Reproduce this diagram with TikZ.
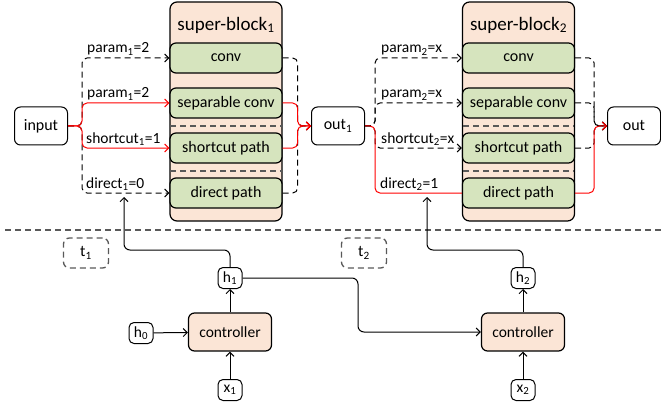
\documentclass[tikz,border=0pt]{standalone}
\usepackage{fontspec}
\setmainfont{Carlito}
\usetikzlibrary{calc,arrows.meta}
\definecolor{peach}{HTML}{FBE5D6}
\definecolor{olive}{HTML}{D6E4BE}
\definecolor{sepgray}{HTML}{595959}
\definecolor{selred}{HTML}{FF0000}
\tikzset{
  >={Straight Barb[length=4pt,width=8pt]},
  outer/.style={draw,line width=1.2pt,rounded corners=7pt,fill=peach,minimum width=112pt,minimum height=219pt},
  blk/.style={draw,line width=1.2pt,rounded corners=6pt,fill=olive,minimum width=112pt,minimum height=30pt,font=\fontsize{16}{16}\selectfont},
  io/.style={draw,line width=1pt,rounded corners=6pt,minimum width=53pt,minimum height=38pt,font=\fontsize{16}{16}\selectfont},
  ctl/.style={draw,line width=1.2pt,rounded corners=6pt,fill=peach,minimum width=83pt,minimum height=38pt,font=\fontsize{15.5}{15.5}\selectfont},
  small/.style={draw,line width=1pt,rounded corners=5pt,minimum width=24pt,minimum height=21pt,inner sep=1pt,font=\fontsize{15.5}{15.5}\selectfont},
  tbox/.style={draw,line width=1.3pt,sepgray,text=black,dash pattern=on 6pt off 4pt,rounded corners=6pt,minimum width=45pt,minimum height=30pt,font=\fontsize{16}{16}\selectfont},
  lbl/.style={anchor=base west,inner sep=0pt,font=\fontsize{15.5}{15.5}\selectfont},
  ttl/.style={font=\fontsize{19}{19}\selectfont},
  sep/.style={sepgray,line width=1.2pt,dash pattern=on 6pt off 4pt},
  off/.style={->,line width=1pt,dash pattern=on 6pt off 4pt,rounded corners=5pt},
  on/.style={->,line width=1pt,selred,rounded corners=5pt},
  arr/.style={->,line width=1pt,rounded corners=6pt}
}
\begin{document}
\begin{tikzpicture}[x=1pt,y=-1pt]
\useasboundingbox (0,0) rectangle (661,409);

% super-block 1
\node[outer] (sb1) at (226,111.5) {};
\node[ttl] (sb1t) at (226,25) {super-block\textsubscript{1}};
\node[blk] (conv1) at (226,58) {conv};
\node[blk] (sep1) at (226,103) {separable conv};
\node[blk] (sc1) at (226,148) {shortcut path};
\node[blk] (dp1) at (226,193) {direct path};
\draw[sep] (170,126) -- (282,126);
\draw[sep] (170,171) -- (282,171);

% super-block 2
\node[outer] (sb2) at (518.5,111.5) {};
\node[ttl] (sb2t) at (518.5,25) {super-block\textsubscript{2}};
\node[blk] (conv2) at (518.5,58) {conv};
\node[blk] (sep2) at (518.5,103) {separable conv};
\node[blk] (sc2) at (518.5,148) {shortcut path};
\node[blk] (dp2) at (518.5,193) {direct path};
\draw[sep] (463,126) -- (574,126);
\draw[sep] (463,171) -- (574,171);

\node[io] (input) at (41,126) {input};
\node[io] (out1) at (338,126) {out\textsubscript{1}};
\node[io] (out) at (634,126) {out};

% block 1 in / out
\draw[off] (input.east) -- ++(14,0) |- (conv1.west);
\draw[off] (input.east) -- ++(14,0) |- (dp1.west);
\draw[on] (input.east) -- ++(14,0) |- (sep1.west);
\draw[on] (input.east) -- ++(14,0) |- (sc1.west);
\draw[off] (conv1.east) -- ++(15,0) |- (out1.west);
\draw[off] (dp1.east) -- ++(15,0) |- (out1.west);
\draw[on] (sep1.east) -- ++(15,0) |- (out1.west);
\draw[on] (sc1.east) -- ++(15,0) |- (out1.west);

\node[lbl] (p11) at (87,53) {param\textsubscript{1}=2};
\node[lbl] (p12) at (87,98) {param\textsubscript{1}=2};
\node[lbl] (s1) at (86,143.5) {shortcut\textsubscript{1}=1};
\node[lbl] (d1) at (86,188) {direct\textsubscript{1}=0};

% block 2 in / out
\draw[off] (out1.east) -- ++(10,0) |- (conv2.west);
\draw[off] (out1.east) -- ++(10,0) |- (sep2.west);
\draw[off] (out1.east) -- ++(10,0) |- (sc2.west);
\draw[on,-] (out1.east) -- ++(10,0) |- (dp2.west);
\draw[off] (conv2.east) -- ++(19,0) |- (out.west);
\draw[off] (sep2.east) -- ++(19,0) |- (out.west);
\draw[off] (sc2.east) -- ++(19,0) |- (out.west);
\draw[on] (dp2.east) -- ++(19,0) |- (out.west);

\node[lbl] (p21) at (381,53) {param\textsubscript{2}=x};
\node[lbl] (p22) at (381,98) {param\textsubscript{2}=x};
\node[lbl] (s2) at (381,143.5) {shortcut\textsubscript{2}=x};
\node[lbl] (d2) at (380,188) {direct\textsubscript{2}=1};

% time steps
\draw[sep] (5,230) -- (661,230);
\node[tbox] (t1) at (86,253) {t\textsubscript{1}};
\node[tbox] (t2) at (364,253) {t\textsubscript{2}};

% controllers
\node[ctl] (ctl1) at (230,332) {controller};
\node[ctl] (ctl2) at (523,332) {controller};
\node[small] (h0) at (141,333) {h\textsubscript{0}};
\node[small] (h1) at (230,278) {h\textsubscript{1}};
\node[small] (h2) at (523,278) {h\textsubscript{2}};
\node[small] (x1) at (230,390) {x\textsubscript{1}};
\node[small] (x2) at (523,390) {x\textsubscript{2}};

\coordinate (k1) at (124,250);
\coordinate (a1) at (124,197);
\coordinate (k2) at (427,250);
\coordinate (a2) at (427,197);
\coordinate (m1) at (358,278);

\draw[arr] (h0) -- (ctl1);
\draw[arr] (x1) -- (ctl1);
\draw[arr] (ctl1) -- (h1);
\draw[arr] (x2) -- (ctl2);
\draw[arr] (ctl2) -- (h2);
\draw[arr] (h1.north) |- (k1) -- (a1);
\draw[arr] (h2.north) |- (k2) -- (a2);
\draw[arr] (h1.east) -- (m1) |- (ctl2.west);

\end{tikzpicture}
\end{document}
